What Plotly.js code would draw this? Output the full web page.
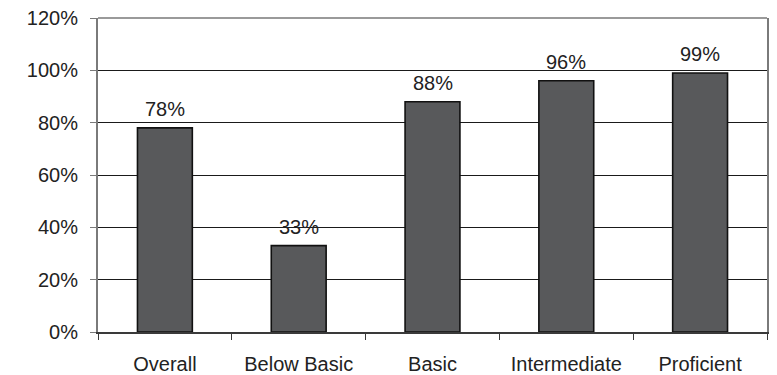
<!DOCTYPE html>
<html>
<head>
<meta charset="utf-8">
<script src="https://cdn.plot.ly/plotly-3.0.1.min.js"></script>
<style>
  html, body { margin: 0; padding: 0; background: #fff; }
  #chart { width: 777px; height: 375px; }
</style>
</head>
<body>
<div id="chart"></div>
<script>
// Share of students by proficiency level (percent)
const categories = ['Overall', 'Below Basic', 'Basic', 'Intermediate', 'Proficient'];
const values = [78, 33, 88, 96, 99];
const yTickValues = [0, 20, 40, 60, 80, 100, 120];

const font = { family: '"Liberation Sans", Arial, sans-serif', size: 20, color: '#222' };

const trace = {
  type: 'bar',
  x: categories,
  y: values,
  width: 0.41,
  marker: { color: '#58595b', line: { color: '#111', width: 1.6 } },
  hoverinfo: 'skip'
};

// value labels sitting above each bar
const labels = categories.map((c, i) => ({
  x: c,
  y: values[i],
  text: values[i] + '%',
  showarrow: false,
  yanchor: 'bottom',
  yshift: 6,
  font: font
}));

const layout = {
  width: 777,
  height: 375,
  margin: { l: 98, r: 10, t: 18, b: 43 },
  paper_bgcolor: '#fff',
  plot_bgcolor: '#fff',
  font: font,
  showlegend: false,
  bargap: 0,
  xaxis: {
    type: 'category',
    showline: true,
    linecolor: '#3a3a3a',
    linewidth: 2,
    ticks: 'outside',
    tickson: 'boundaries',
    ticklen: 6,
    tickcolor: '#3a3a3a',
    tickwidth: 1,
    showgrid: false,
    ticklabelstandoff: 13
  },
  yaxis: {
    range: [0, 120],
    tickvals: yTickValues,
    ticktext: yTickValues.map(v => v + '%'),
    showline: true,
    linecolor: '#7a7a7a',
    linewidth: 2,
    mirror: true,
    ticks: 'outside',
    ticklen: 6,
    tickcolor: '#7a7a7a',
    showgrid: true,
    gridcolor: '#1a1a1a',
    gridwidth: 1,
    zeroline: false,
    ticklabelstandoff: 8
  },
  shapes: [
    // light top border of the plot frame
    { type: 'line', xref: 'paper', yref: 'paper', x0: 0, x1: 1, y0: 1, y1: 1,
      line: { color: '#9a9a9a', width: 2 } }
  ],
  annotations: labels
};

Plotly.newPlot('chart', [trace], layout, { displayModeBar: false, staticPlot: true });
</script>
</body>
</html>
